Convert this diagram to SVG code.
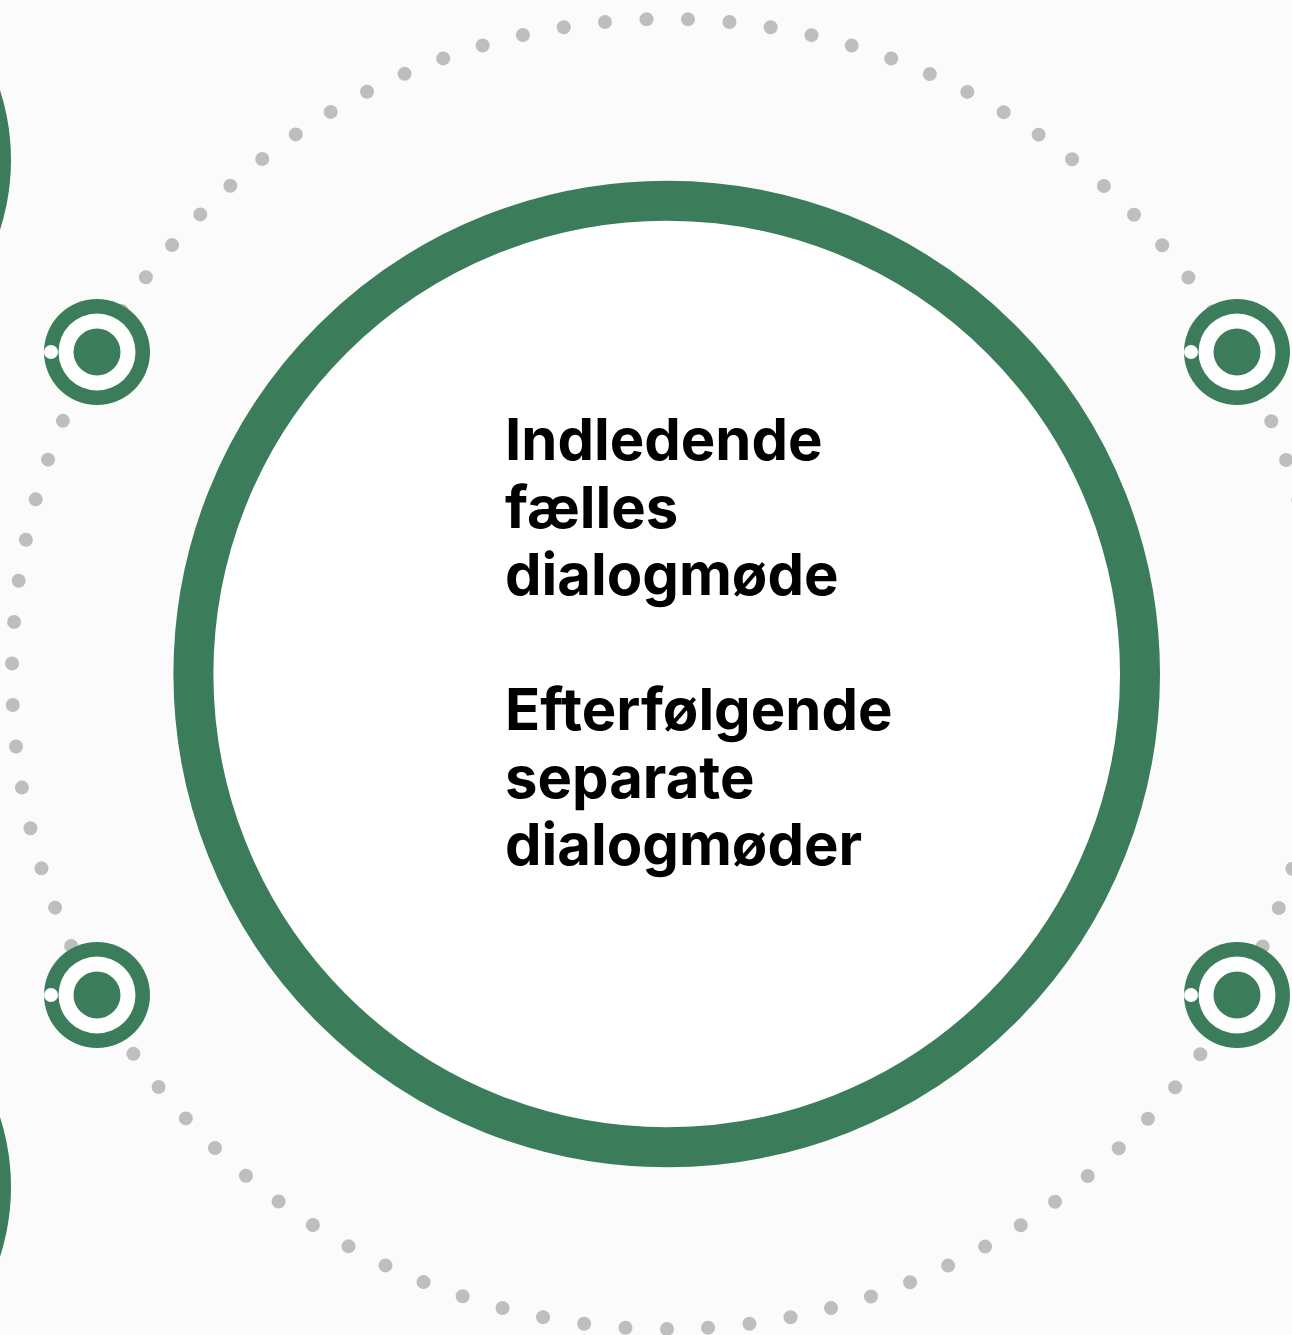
<svg xmlns="http://www.w3.org/2000/svg" width="1292" height="1335" viewBox="0 0 1292 1335">
  <style>
    .g { fill: #3B7D5B; }
    .w { fill: #FFFFFF; }
    .lbl { font-family: Inter, "Liberation Sans", sans-serif; font-weight: 700; font-size: 58px; fill: #000000; }
  </style>
  <defs>
    <g id="dotnode">
      <circle r="53" class="g"/>
      <circle r="38.5" class="w"/>
      <circle r="23.5" class="g"/>
      <circle cx="-46" cy="0" r="7" class="w"/>
    </g>
  </defs>
  <rect x="0" y="0" width="1292" height="1335" fill="#FCFBFC"/>

  <g id="edge-shapes">
    <circle cx="-217" cy="160" r="228" class="g"/>
    <circle cx="-217" cy="1187" r="228" class="g"/>
  </g>

  <g id="connectors">
    <circle cx="667" cy="674" r="655" fill="none" stroke="#BEBEBE" stroke-width="14" stroke-linecap="round" stroke-dasharray="0 41.5707" transform="rotate(90 667 674)"/>
  </g>

  <g id="main-node">
    <circle cx="666.7" cy="674" r="473.3" fill="#FFFFFF" stroke="#3B7D5B" stroke-width="40"/>
    <text class="lbl" x="505">
      <tspan x="505" y="460">Indledende</tspan>
      <tspan x="505" y="527.5">fælles</tspan>
      <tspan x="505" y="595">dialogmøde</tspan>
      <tspan x="505" y="730">Efterfølgende</tspan>
      <tspan x="505" y="797.5">separate</tspan>
      <tspan x="505" y="865">dialogmøder</tspan>
    </text>
  </g>

  <g id="node-top-left"><use href="#dotnode" x="97" y="352"/></g>
  <g id="node-top-right"><use href="#dotnode" x="1237" y="352"/></g>
  <g id="node-bottom-left"><use href="#dotnode" x="97" y="995"/></g>
  <g id="node-bottom-right"><use href="#dotnode" x="1237" y="995"/></g>
</svg>
